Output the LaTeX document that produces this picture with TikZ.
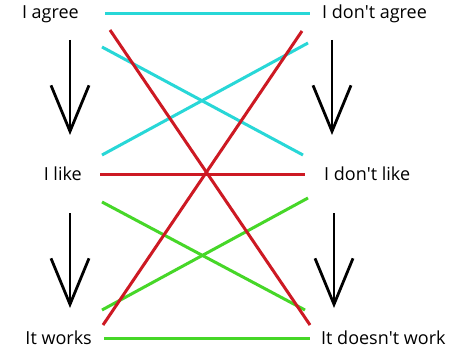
\documentclass[tikz,border=0pt]{standalone}
\usepackage{fontspec}
\setmainfont{Open Sans}
\usepackage{tikz}
\usetikzlibrary{arrows.meta}

\definecolor{agreecol}{RGB}{40,215,215}
\definecolor{likecol}{RGB}{205,25,35}
\definecolor{workcol}{RGB}{70,215,40}

\tikzset{
  lbl/.style={font=\fontsize{18}{18}\selectfont, inner sep=0pt},
  pair/.style={line width=3pt},
  down/.style={line width=2.8pt, -{Straight Barb[length=46pt,width=38pt,line width=2.8pt]}}
}

\begin{document}
\begin{tikzpicture}[x=1pt,y=-1pt]
    \useasboundingbox[fill=white] (0,0) rectangle (470,358);

    \node[lbl,anchor=east] (agree)   at (79,14)  {I agree};
    \node[lbl,anchor=east] (like)    at (82,174) {I like};
    \node[lbl,anchor=east] (works)   at (92,338) {It works};
    \node[lbl,anchor=west] (nagree)  at (322,14)  {I don\textquotesingle t agree};
    \node[lbl,anchor=west] (nlike)   at (324,174) {I don\textquotesingle t like};
    \node[lbl,anchor=west] (nworks)  at (321,338) {It doesn\textquotesingle t work};

    % line ends
    \coordinate (A1) at (105,14);  \coordinate (A2) at (310,14);
    \coordinate (A3) at (102,47);  \coordinate (A4) at (303,155);
    \coordinate (A5) at (102,155); \coordinate (A6) at (308,43);
    \coordinate (L1) at (100,174); \coordinate (L2) at (305,174);
    \coordinate (L3) at (110,30);  \coordinate (L4) at (310,325);
    \coordinate (L5) at (103,325); \coordinate (L6) at (302,31);
    \coordinate (W1) at (104,338); \coordinate (W2) at (310,338);
    \coordinate (W3) at (102,202); \coordinate (W4) at (305,310);
    \coordinate (W5) at (102,310); \coordinate (W6) at (308,198);

    \draw[pair,agreecol] (A1) -- (A2);
    \draw[pair,agreecol] (A3) -- (A4);
    \draw[pair,agreecol] (A5) -- (A6);
    \draw[pair,workcol] (W1) -- (W2);
    \draw[pair,workcol] (W3) -- (W4);
    \draw[pair,workcol] (W5) -- (W6);
    \draw[pair,likecol] (L1) -- (L2);
    \draw[pair,likecol] (L3) -- (L4);
    \draw[pair,likecol] (L5) -- (L6);

    % arrows
    \coordinate (d1) at (70,40);  \coordinate (d2) at (70,135);
    \coordinate (d3) at (70,213); \coordinate (d4) at (70,308);
    \coordinate (d5) at (332,40); \coordinate (d6) at (332,135);
    \coordinate (d7) at (334,213); \coordinate (d8) at (334,308);
    \draw[down] (d1) -- (d2);
    \draw[down] (d3) -- (d4);
    \draw[down] (d5) -- (d6);
    \draw[down] (d7) -- (d8);
\end{tikzpicture}
\end{document}
